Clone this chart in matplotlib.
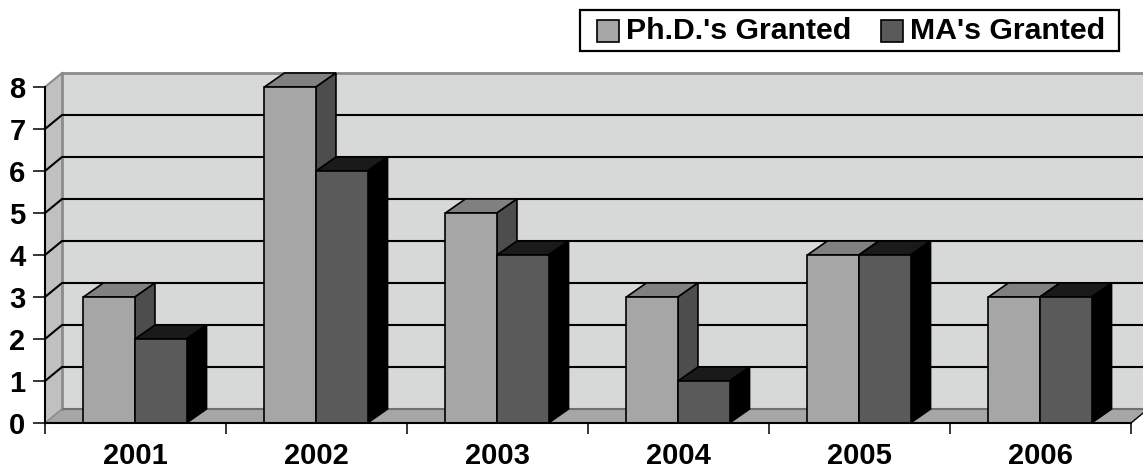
import numpy as np
import matplotlib
matplotlib.use("Agg")
import matplotlib.pyplot as plt
from matplotlib.patches import Polygon, Rectangle

years = ["2001", "2002", "2003", "2004", "2005", "2006"]
phd = [3, 8, 5, 3, 4, 3]
ma = [2, 6, 4, 1, 4, 3]
yticks = [0, 1, 2, 3, 4, 5, 6, 7, 8]

plt.rcParams["font.family"] = ["Liberation Sans", "DejaVu Sans"]
plt.rcParams["font.weight"] = "bold"

W, H = 1143, 470
fig = plt.figure(figsize=(W / 100, H / 100), dpi=100)
ax = fig.add_axes([45 / W, 1 - 423 / H, 1086 / W, 336 / H])
ax.set_xlim(0, 6)
ax.set_ylim(0, 8)
ax.patch.set_visible(False)

# depth of the fake 3d, in data units
wall_dx = 17 / 181
wall_dy = 14 / 42
bar_dx = 20 / 181
bar_dy = 14 / 42
bar_w = 0.285
bar_x0 = 0.212
right = 6 + wall_dx


def poly(pts, fc, ec="none", lw=0, z=1):
    ax.add_patch(Polygon(pts, closed=True, fc=fc, ec=ec, lw=lw, zorder=z,
                         clip_on=False, joinstyle="miter"))


# back wall, side wall, floor
poly([(wall_dx, wall_dy), (right, wall_dy), (right, 8 + wall_dy), (wall_dx, 8 + wall_dy)], "#d7d9d8")
poly([(0, 0), (wall_dx, wall_dy), (wall_dx, 8 + wall_dy), (0, 8)], "#c0c0c0")
poly([(0, 0), (6, 0), (right, wall_dy), (wall_dx, wall_dy)], "#a6a6a6")

gray = "#8c8c8c"
ax.plot([wall_dx, right], [8 + wall_dy] * 2, color=gray, lw=2, zorder=2, clip_on=False)
ax.plot([wall_dx, wall_dx], [wall_dy, 8 + wall_dy], color=gray, lw=2, zorder=2, clip_on=False)
ax.plot([0, wall_dx], [8, 8 + wall_dy], color=gray, lw=1.5, zorder=2, clip_on=False)
ax.plot([wall_dx, right], [wall_dy] * 2, color="#707070", lw=1.5, zorder=2, clip_on=False)
ax.plot([0, wall_dx], [0, wall_dy], color=gray, lw=1.2, zorder=2, clip_on=False)
ax.plot([6, right], [0, wall_dy], color="black", lw=1, zorder=2, clip_on=False)

# gridlines along the back wall with the slanted part on the side wall
for v in yticks[1:-1]:
    ax.plot([0, wall_dx, right], [v, v + wall_dy, v + wall_dy], color="black", lw=1.5,
            zorder=3, clip_on=False)


def bar3d(x, v, front, top, side, z):
    ax.bar(x, v, width=bar_w, align="edge", color=front, edgecolor="black", lw=1.2,
           zorder=z + 1, clip_on=False)
    poly([(x, v), (x + bar_w, v), (x + bar_w + bar_dx, v + bar_dy), (x + bar_dx, v + bar_dy)],
         top, "black", 1.2, z)
    poly([(x + bar_w, 0), (x + bar_w + bar_dx, bar_dy), (x + bar_w + bar_dx, v + bar_dy), (x + bar_w, v)],
         side, "black", 1.2, z)


xpos = np.arange(len(years))
for i in xpos:
    bar3d(i + bar_x0, phd[i], "#a6a6a6", "#808080", "#4d4d4d", 4 + 4 * i)
    bar3d(i + bar_x0 + bar_w, ma[i], "#5a5a5a", "#1a1a1a", "#000000", 6 + 4 * i)

for s in ["top", "right"]:
    ax.spines[s].set_visible(False)
for s in ["left", "bottom"]:
    ax.spines[s].set_linewidth(1.5)
    ax.spines[s].set_zorder(50)

ax.set_yticks(yticks)
ax.set_yticklabels([str(v) for v in yticks], fontsize=21, fontweight="bold")
ax.tick_params(axis="y", length=8.6, width=1.1, pad=5.5)
ax.set_xticks(np.arange(len(years) + 1))
ax.set_xticklabels([])
ax.tick_params(axis="x", which="major", length=8, width=1.1)
ax.set_xticks(xpos + 0.5, minor=True)
ax.set_xticklabels(years, minor=True, fontsize=21, fontweight="bold")
ax.tick_params(axis="x", which="minor", length=0, pad=14)


# legend drawn by hand, the box is tighter than fig.legend gives
def fx(px):
    return px / W


def fy(px):
    return 1 - px / H


fig.add_artist(Rectangle((fx(580), fy(51)), fx(539), 41 / H, transform=fig.transFigure,
                         fc="white", ec="black", lw=1.6))
for name, color, sx, tx in [("Ph.D.'s Granted", "#a6a6a6", 597, 626),
                            ("MA's Granted", "#5a5a5a", 881, 910)]:
    fig.add_artist(Rectangle((fx(sx), fy(42)), 22 / W, 22 / H, transform=fig.transFigure,
                             fc=color, ec="black", lw=1.2))
    fig.text(fx(tx), fy(31), name, fontsize=21.8, fontweight="bold", va="center", ha="left")

fig.savefig("out.png", dpi=100)
